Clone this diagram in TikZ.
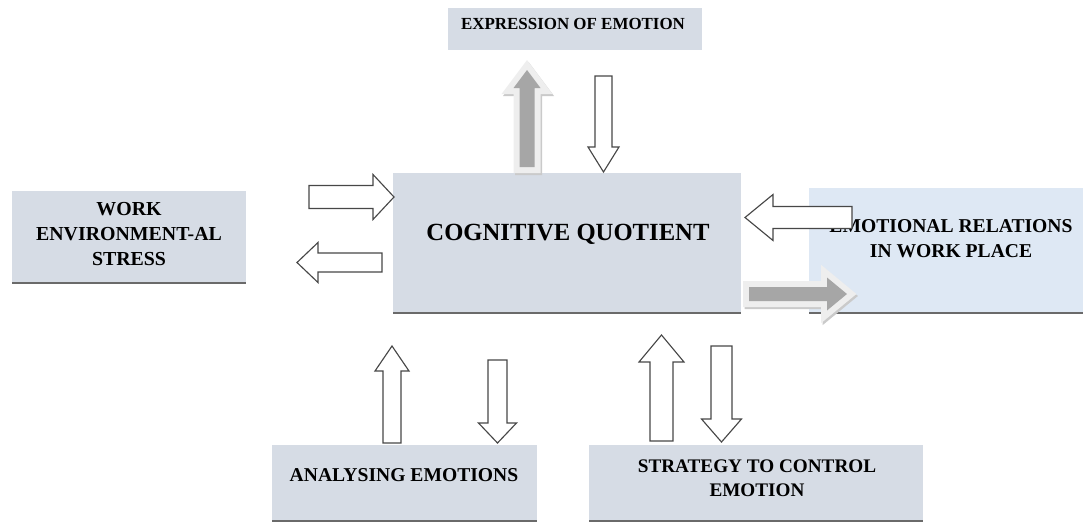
\documentclass[tikz,border=0pt]{standalone}
\usepackage{fontspec}
\setmainfont{Liberation Serif}
\definecolor{boxgray}{HTML}{D6DCE5}
\definecolor{boxblue}{HTML}{DEE8F4}
\definecolor{edgeline}{HTML}{6A6A6A}
\definecolor{arrowgray}{HTML}{A6A6A6}
\definecolor{glowgray}{HTML}{EEEEEE}
\definecolor{shadowgray}{HTML}{CACACA}
% vertical block arrow: style, centre x, tail y, head-base y, tip y, shaft half width, head half width
\newcommand{\varw}[7]{\draw[#1] ({#2-#6},#3) -- ({#2-#6},#4) -- ({#2-#7},#4) -- (#2,#5) -- ({#2+#7},#4) -- ({#2+#6},#4) -- ({#2+#6},#3) -- cycle;}
% horizontal block arrow: style, centre y, tail x, head-base x, tip x, shaft half width, head half width
\newcommand{\harw}[7]{\draw[#1] (#3,{#2-#6}) -- (#4,{#2-#6}) -- (#4,{#2-#7}) -- (#5,#2) -- (#4,{#2+#7}) -- (#4,{#2+#6}) -- (#3,{#2+#6}) -- cycle;}
\begin{document}
\begin{tikzpicture}[x=0.75pt,y=-0.75pt,
  boxnode/.style={rectangle, inner sep=0pt, outer sep=0pt, fill=boxgray},
  basebar/.style={draw=edgeline, line width=2.2pt},
  lbl/.style={inner sep=0pt, anchor=base, align=center, text=black},
  whitearrow/.style={fill=white, draw=black!72, line width=0.85pt, line join=miter},
  glowshadow/.style={fill=shadowgray, draw=shadowgray, line width=9pt, line join=miter},
  glow/.style={fill=glowgray, draw=glowgray, line width=9pt, line join=miter},
  grayfill/.style={fill=arrowgray, draw=none}]
\useasboundingbox (0,0) rectangle (1083,522);

% boxes
\node[boxnode, minimum width=190.5pt, minimum height=31.5pt] (expr) at (575,29) {};
\node[boxnode, minimum width=261pt, minimum height=105pt] (cq) at (567,243) {};
\node[boxnode, minimum width=175.5pt, minimum height=69pt] (work) at (129,237) {};
\node[boxnode, fill=boxblue, minimum width=205.5pt, minimum height=93.75pt] (rel) at (946,250.5) {};
\node[boxnode, minimum width=198.75pt, minimum height=57pt] (ana) at (404.5,483) {};
\node[boxnode, minimum width=250.5pt, minimum height=57pt] (strat) at (756,483) {};

\draw[basebar] (cq.south west) -- (cq.south east);
\draw[basebar] (work.south west) -- (work.south east);
\draw[basebar] (rel.south west) -- (rel.south east);
\draw[basebar] (ana.south west) -- (ana.south east);
\draw[basebar] (strat.south west) -- (strat.south east);

% texts (multi-line nodes are anchored at the baseline of their last line)
\node[lbl, font=\fontsize{12.7}{15}\selectfont\bfseries] (texpr) at (573,29) {EXPRESSION OF EMOTION};
\node[lbl, font=\fontsize{18.5}{22}\selectfont\bfseries] (tcq) at (568,240) {COGNITIVE QUOTIENT};
\node[lbl, font=\fontsize{14.9}{18.75}\selectfont\bfseries] (twork) at (129,265) {WORK\\ENVIRONMENT-AL\\STRESS};
\node[lbl, font=\fontsize{14.7}{18.75}\selectfont\bfseries] (trel) at (951,257) {EMOTIONAL RELATIONS\\IN WORK PLACE};
\node[lbl, font=\fontsize{14.7}{18}\selectfont\bfseries] (tana) at (404,481) {ANALYSING EMOTIONS};
\node[lbl, font=\fontsize{14.4}{18}\selectfont\bfseries] (tstrat) at (757,496) {STRATEGY TO CONTROL\\EMOTION};

% top arrows
\varw{glowshadow, shift={(1.5,2)}}{527}{167}{88}{70}{7.5}{13.5}
\varw{glow}{527}{167}{88}{70}{7.5}{13.5}
\varw{grayfill}{527}{167}{88}{70}{7.5}{13.5}
\varw{whitearrow}{603.5}{76}{147}{172}{8.5}{15.5}

% left arrows
\harw{whitearrow}{197}{309}{373}{394}{11.5}{22.5}
\harw{whitearrow}{262.5}{382}{318}{297}{9.5}{20}

% right arrows
\harw{whitearrow}{217.5}{852}{773}{745}{11}{23}
\harw{glowshadow, shift={(1.5,2)}}{294}{749}{827}{847}{7}{16.5}
\harw{glow}{294}{749}{827}{847}{7}{16.5}
\harw{grayfill}{294}{749}{827}{847}{7}{16.5}

% bottom arrows
\varw{whitearrow}{392}{443}{371}{346}{9}{17}
\varw{whitearrow}{497.5}{360}{423}{443}{9.5}{19}
\varw{whitearrow}{661.5}{441}{362}{335}{11.5}{22.5}
\varw{whitearrow}{721.5}{346}{419}{442}{10.5}{20}
\end{tikzpicture}
\end{document}
